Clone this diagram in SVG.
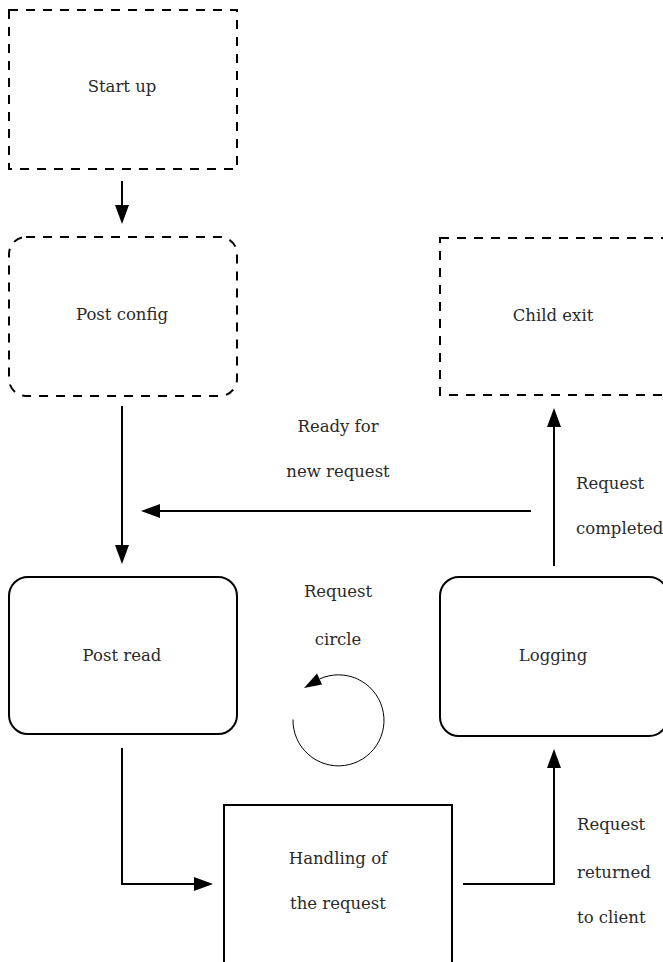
<svg xmlns="http://www.w3.org/2000/svg" width="663" height="962" viewBox="0 0 663 962">
  <style>
    .box { fill: none; stroke: #000; stroke-width: 2; }
    .dash { stroke-dasharray: 9 8; }
    .lbl { font-family: "DejaVu Serif", "Liberation Serif", serif; font-size: 16.5px; fill: #2a2a2a; text-anchor: middle; }
    .side { text-anchor: start; }
    .edge { fill: none; stroke: #000; stroke-width: 2; }
  </style>
  <defs>
    <marker id="arrow" viewBox="0 0 19 14" refX="9" refY="7" markerWidth="19" markerHeight="14" markerUnits="userSpaceOnUse" orient="auto">
      <path d="M0,0 L19,7 L0,14 z" fill="#000"/>
    </marker>
  </defs>
  <rect width="663" height="962" fill="#fff"/>

  <g id="start-up">
    <rect class="box dash" x="9" y="10" width="228" height="159"/>
    <text class="lbl" x="122" y="92">Start up</text>
  </g>

  <g id="post-config">
    <rect class="box dash" x="9" y="237" width="228" height="159" rx="17"/>
    <text class="lbl" x="122" y="320">Post config</text>
  </g>

  <g id="child-exit">
    <rect class="box dash" x="440" y="238" width="228" height="157"/>
    <text class="lbl" x="553" y="321">Child exit</text>
  </g>

  <g id="post-read">
    <rect class="box" x="9" y="577" width="228" height="157" rx="19"/>
    <text class="lbl" x="122" y="661">Post read</text>
  </g>

  <g id="logging">
    <rect class="box" x="440" y="577" width="228" height="159" rx="19"/>
    <text class="lbl" x="553" y="661">Logging</text>
  </g>

  <g id="handling">
    <rect class="box" x="224" y="805" width="228" height="170"/>
    <text class="lbl" x="338" y="864">Handling of</text>
    <text class="lbl" x="338" y="909">the request</text>
  </g>

  <g id="request-circle">
    <text class="lbl" x="338" y="597">Request</text>
    <text class="lbl" x="338" y="645">circle</text>
    <path d="M293,719.5 A45.5,45.5 0 1 0 319.5,679" fill="none" stroke="#000" stroke-width="1"/>
    <path d="M304,688 L317,673.6 L322,684.4 z" fill="#000"/>
  </g>

  <g id="connectors">
    <path class="edge" d="M122,181 V214" marker-end="url(#arrow)"/>
    <path class="edge" d="M122,406 V554" marker-end="url(#arrow)"/>
    <path class="edge" d="M122,748 V884 H203" marker-end="url(#arrow)"/>
    <path class="edge" d="M463,884 H554 V759" marker-end="url(#arrow)"/>
    <path class="edge" d="M554,566 V418" marker-end="url(#arrow)"/>
    <path class="edge" d="M531,511 H151" marker-end="url(#arrow)"/>
  </g>

  <g id="edge-labels">
    <text class="lbl" x="338" y="432">Ready for</text>
    <text class="lbl" x="338" y="477">new request</text>
    <text class="lbl side" x="576" y="489">Request</text>
    <text class="lbl side" x="576" y="534">completed</text>
    <text class="lbl side" x="577" y="830">Request</text>
    <text class="lbl side" x="577" y="878">returned</text>
    <text class="lbl side" x="577" y="923">to client</text>
  </g>
</svg>
